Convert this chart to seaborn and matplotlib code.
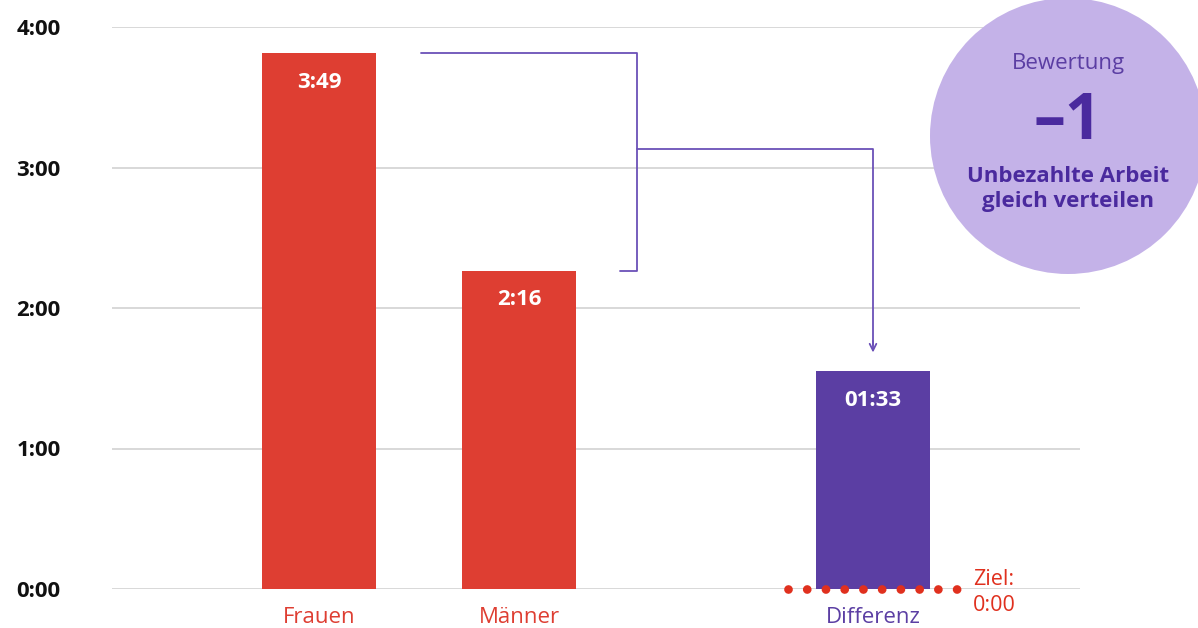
import matplotlib
matplotlib.use("Agg")
import matplotlib.pyplot as plt
import seaborn as sns
from matplotlib.patches import Ellipse

# data (minutes per day)
categories = ["Frauen", "Männer", "Differenz"]
positions = [0.0, 1.0, 2.77]
minutes = [229, 136, 93]
bar_labels = ["3:49", "2:16", "01:33"]
y_ticks = [0, 60, 120, 180, 240]
y_tick_labels = ["0:00", "1:00", "2:00", "3:00", "4:00"]
goal = 0
rating = "\u20131"

RED = "#DE3E32"
PURPLE = "#5B3EA3"
LINE = "#6B50B8"
BUBBLE = "#C4B2E8"

sns.set_style("white")
plt.rcParams["font.family"] = ["Open Sans", "DejaVu Sans"]

W, H = 1198, 628
fig = plt.figure(figsize=(W / 100, H / 100), dpi=100)
ax = fig.add_axes([112 / W, (H - 589) / H, (1080 - 112) / W, (589 - 27) / H])

sns.barplot(x=positions, y=minutes, hue=categories, palette=[RED, RED, PURPLE],
            native_scale=True, width=0.57, legend=False, saturation=1,
            linewidth=0, ax=ax)

ax.set_xlim(-1.035, 3.805)
ax.set_ylim(0, 240)
ax.set_axisbelow(True)
ax.yaxis.grid(True, color="#d2d2d2", linewidth=1.2)
sns.despine(ax=ax, left=True, bottom=True)

ax.set_yticks(y_ticks, y_tick_labels, fontsize=16, fontweight="bold", color="#111111")
ax.tick_params(axis="y", length=0, pad=37)
ax.set_xticks(positions, categories, fontsize=16)
ax.tick_params(axis="x", length=0, pad=13)
for lbl, c in zip(ax.get_xticklabels(), [RED, RED, PURPLE]):
    lbl.set_color(c)

# value labels inside bars
for x, m, t in zip(positions, minutes, bar_labels):
    ax.text(x, m - 12.5, t, ha="center", va="center", color="white",
            fontsize=16, fontweight="bold")

# connector bracket and arrow
mid = 188
ax.plot([0.51, 1.59, 1.59, 1.505], [minutes[0], minutes[0], minutes[1], minutes[1]],
        color=LINE, lw=1.3, clip_on=False)
ax.plot([1.59, positions[2], positions[2]], [mid, mid, 104], color=LINE, lw=1.3)
ax.annotate("", xy=(positions[2], 101), xytext=(positions[2], 106),
            arrowprops=dict(arrowstyle="->", color=LINE, lw=1.3,
                            mutation_scale=12, shrinkA=0, shrinkB=0))

# goal dotted line
ax.plot([2.345, 3.19], [goal, goal], color="#E0301E", lw=6.3,
        linestyle=(0, (0.001, 2.14)), dash_capstyle="round", clip_on=False, zorder=5)
ax.text(3.27, goal - 1.5, "Ziel:\n0:00", ha="left", va="center", color="#E0301E",
        fontsize=15.5, linespacing=1.3, clip_on=False)

# rating bubble
cx, cy, r = 1068, 136, 138
fig.add_artist(Ellipse((cx / W, 1 - cy / H), 2 * r / W, 2 * r / H,
                       transform=fig.transFigure, color=BUBBLE, lw=0, zorder=2))
fig.text(cx / W, 1 - 63 / H, "Bewertung", ha="center", va="center",
         color=PURPLE, fontsize=16, zorder=3)
fig.text(cx / W, 1 - 122 / H, rating, ha="center", va="center",
         color="#4A2A9E", fontsize=46, fontweight="bold", zorder=3)
fig.text(cx / W, 1 - 189 / H, "Unbezahlte Arbeit\ngleich verteilen", ha="center",
         va="center", color="#4A2A9E", fontsize=16, fontweight="bold",
         linespacing=1.3, zorder=3)

fig.savefig("out.png", dpi=100)
